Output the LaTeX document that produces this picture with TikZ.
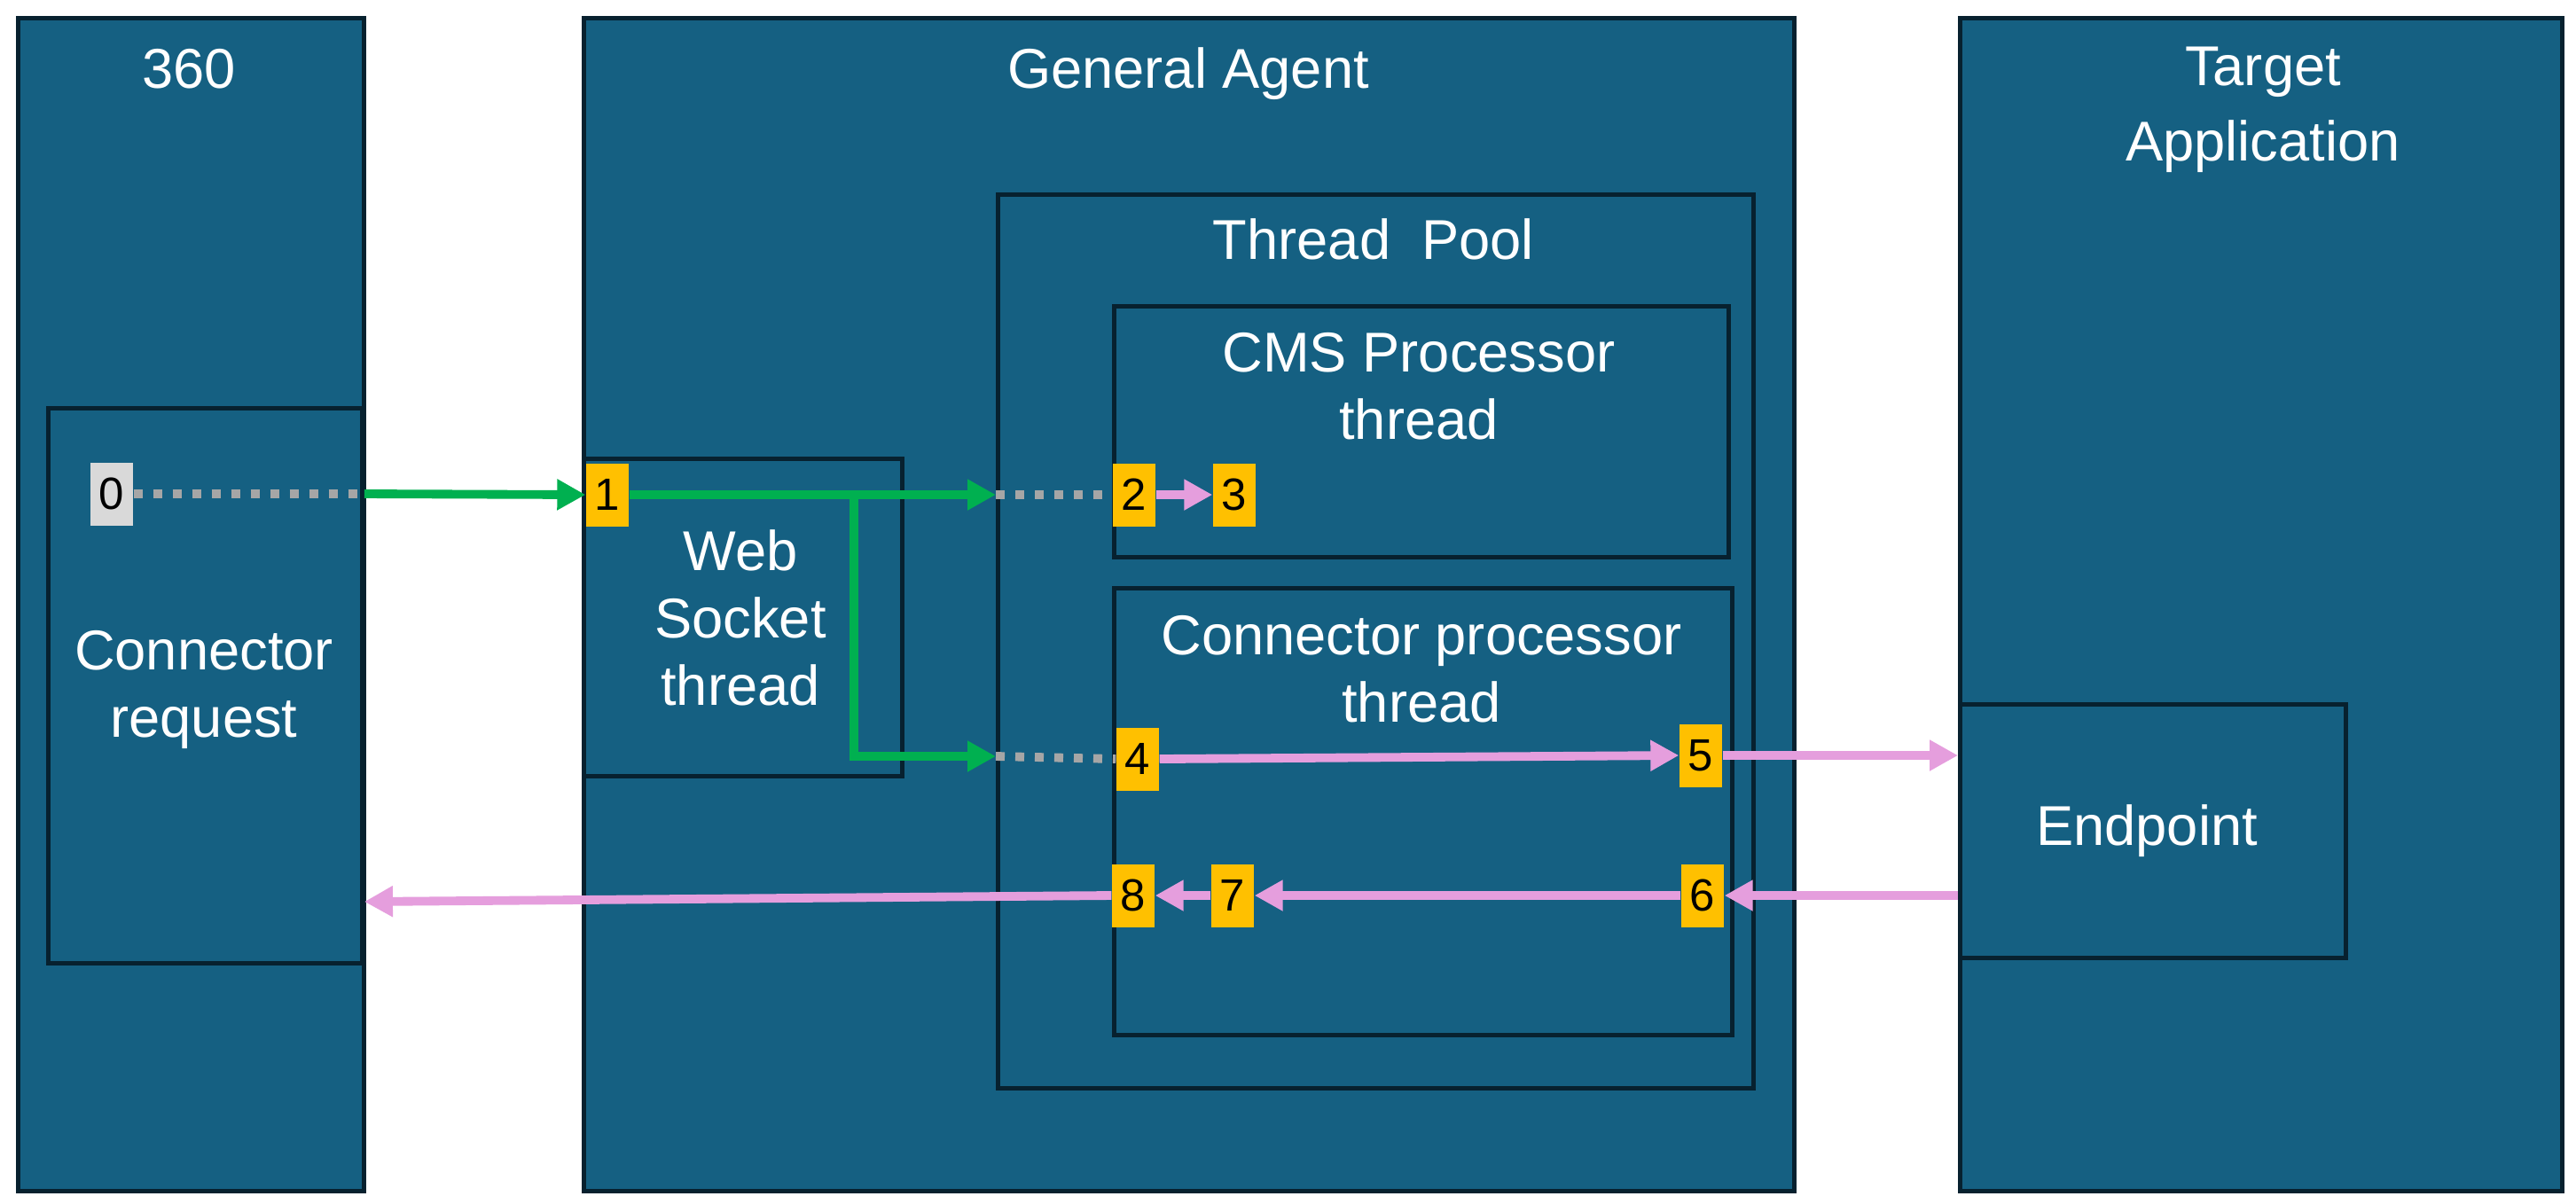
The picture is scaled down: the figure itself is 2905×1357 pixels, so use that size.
\documentclass[tikz,border=0pt]{standalone}
\usepackage{fontspec}
\setmainfont{Liberation Sans}
\usetikzlibrary{arrows.meta}

\definecolor{boxblue}{HTML}{156082}
\definecolor{boxline}{HTML}{07212F}
\definecolor{tagyellow}{HTML}{FFC000}
\definecolor{taggray}{HTML}{D9D9D9}
\definecolor{flowgreen}{HTML}{00B050}
\definecolor{flowpink}{HTML}{E59EDD}
\definecolor{dotgray}{HTML}{A6A6A6}

\begin{document}
\begin{tikzpicture}[x=0.1mm,y=-0.1mm]
\tikzset{
  every node/.style={font=\fontsize{18}{21.6}\selectfont},
  panel/.style={draw=boxline,fill=boxblue,line width=1.4pt,anchor=north west,inner sep=0pt},
  title/.style={text=white,align=center},
  tag/.style={fill=tagyellow,minimum width=0.48cm,minimum height=0.71cm,inner sep=0pt,font=\fontsize{14.5}{16}\selectfont},
  flow/.style={line width=2.8pt,-{Triangle[length=0.32cm,width=0.33cm]}},
  dots/.style={dotgray,line width=2.8pt,dash pattern=on 0.1cm off 0.12cm}
}
\fill[white] (0,0) rectangle (2905,1357);
\useasboundingbox (0,0) rectangle (2905,1357);

% Boxes (outer first)
\node[panel,minimum width=3.90cm,minimum height=13.23cm] (sys) at (18,18) {};
\node[panel,minimum width=3.54cm,minimum height=6.26cm] (req) at (52,458) {};
\node[panel,minimum width=13.65cm,minimum height=13.23cm] (agent) at (656,18) {};
\node[panel,minimum width=3.59cm,minimum height=3.58cm] (ws) at (656,515) {};
\node[panel,minimum width=8.52cm,minimum height=10.08cm] (pool) at (1123,217) {};
\node[panel,minimum width=6.93cm,minimum height=2.83cm] (cms) at (1254,343) {};
\node[panel,minimum width=6.97cm,minimum height=5.04cm] (cpt) at (1254,661) {};
\node[panel,minimum width=6.79cm,minimum height=13.23cm] (target) at (2208,18) {};
\node[panel,minimum width=4.35cm,minimum height=2.86cm] (endpt) at (2208,792) {};

% Box titles
\node[title] (t360) at (213,78) {360};
\node[title] (tagent) at (1340,83) {General Agent};
\node[title] (ttarget) at (2552,124) {Target\\[2.6pt]Application};
\node[title] (tpool) at (1549,270) {Thread\ \ Pool};
\node[title] (tcms) at (1600,436) {CMS Processor\\thread};
\node[title] (tcpt) at (1603,755) {Connector processor\\thread};
\node[title] (tws) at (835,697) {Web\\Socket\\thread};
\node[title] (treq) at (230,778) {Connector\\request};
\node[title] (tendpt) at (2421,937) {Endpoint};

% Number tags
\node[tag,fill=taggray] (n0) at (126,557) {0};
\node[tag] (n1) at (685,558) {1};
\node[tag] (n2) at (1279,558) {2};
\node[tag] (n3) at (1392,558) {3};
\node[tag] (n4) at (1283,856) {4};
\node[tag] (n5) at (1918,852) {5};
\node[tag] (n6) at (1920,1010) {6};
\node[tag] (n7) at (1390,1010) {7};
\node[tag] (n8) at (1278,1010) {8};

% Helper points on the box edges
\coordinate (c0) at (req.east |- n0);
\coordinate (c2) at (pool.west |- n2);
\coordinate (c4) at (pool.west |- 0,853);
\coordinate (br) at (963,558);
\coordinate (c5) at (endpt.west |- n5);
\coordinate (c6) at (endpt.west |- n6);
\coordinate (c8) at (req.east |- 0,1017);

% Dotted hand-overs
\draw[dots] (n0.east) -- (c0);
\draw[dots] (c2) -- (n2.west);
\draw[dots] (c4) -- (n4.west);

% Green flow
\draw[flow,flowgreen] (c0) -- (n1.west);
\draw[flow,flowgreen] (n1.east) -- (c2);
\draw[flow,flowgreen] (br) |- (c4);

% Pink flow
\draw[flow,flowpink] (n2.east) -- (n3.west);
\draw[flow,flowpink] (n4.east) -- (n5.west);
\draw[flow,flowpink] (n5.east) -- (c5);
\draw[flow,flowpink] (c6) -- (n6.east);
\draw[flow,flowpink] (n6.west) -- (n7.east);
\draw[flow,flowpink] (n7.west) -- (n8.east);
\draw[flow,flowpink] (n8.west) -- (c8);

\end{tikzpicture}
\end{document}
